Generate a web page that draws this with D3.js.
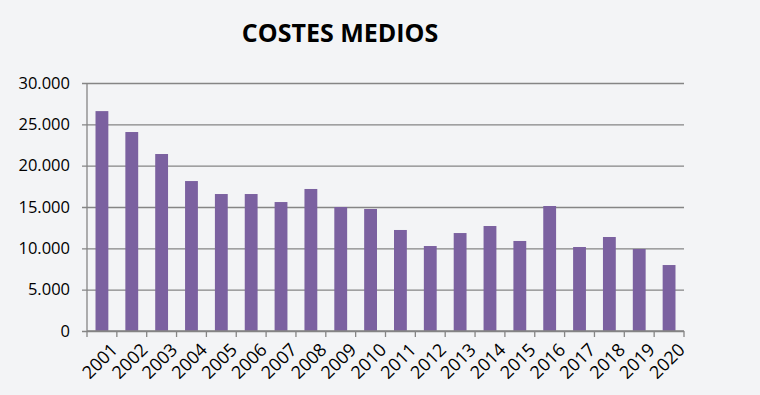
<!DOCTYPE html>
<html lang="es">
<head>
  <meta charset="UTF-8">
  <title>Costes medios</title>
  <script src="https://d3js.org/d3.v7.min.js"></script>
  <style>
    body {
      margin: 0;
      background: #f3f4f6;
    }
    svg text {
      font-family: "Open Sans", sans-serif;
      fill: #000;
    }
    .grid line {
      stroke: #858585;
      stroke-width: 1.3px;
    }
  </style>
</head>
<body>
<script>
const years = ['2001','2002','2003','2004','2005','2006','2007','2008','2009','2010',
               '2011','2012','2013','2014','2015','2016','2017','2018','2019','2020'];
const costes = [26600, 24070, 21410, 18140, 16570, 16570, 15600, 17180, 15000, 14760,
                12220, 10280, 11850, 12700, 10890, 15120, 10160, 11370, 9920, 7980];
const yTicks = [0, 5000, 10000, 15000, 20000, 25000, 30000];

const width = 760, height = 395;
const margin = { top: 83, right: 76, bottom: 64, left: 87 };

const svg = d3.select('body').append('svg')
  .attr('width', width)
  .attr('height', height);

svg.append('rect')
  .attr('width', width)
  .attr('height', height)
  .attr('fill', '#f3f4f6');

const x = d3.scaleBand()
  .domain(years)
  .range([margin.left, width - margin.right])
  .paddingInner(0.57)
  .paddingOuter(0.285);

const y = d3.scaleLinear()
  .domain([0, 30000])
  .range([height - margin.bottom, margin.top]);

const fmt = d => d === 0 ? '0' : d3.format(',')(d).replace(/,/g, '.');

// gridlines + y labels
const yAxis = svg.append('g')
  .attr('class', 'grid')
  .attr('transform', `translate(${margin.left},0)`)
  .call(d3.axisLeft(y).tickValues(yTicks).tickFormat(fmt)
    .tickSize(-(width - margin.left - margin.right)).tickPadding(17));
yAxis.select('.domain').remove();
yAxis.selectAll('.tick line').attr('x1', -5);
yAxis.selectAll('.tick text').style('font-size', '16.5px');

// y axis line
svg.append('line')
  .attr('x1', margin.left).attr('x2', margin.left)
  .attr('y1', margin.top).attr('y2', height - margin.bottom)
  .attr('stroke', '#858585').attr('stroke-width', 1.3);

// bars
svg.selectAll('.bar')
  .data(years)
  .enter().append('rect')
  .attr('class', 'bar')
  .attr('x', d => x(d))
  .attr('width', x.bandwidth())
  .attr('y', (d, i) => y(costes[i]))
  .attr('height', (d, i) => y(0) - y(costes[i]))
  .attr('fill', '#7b61a0');

// x axis
const step = x.step();
const base = y(0);
svg.append('line')
  .attr('x1', margin.left).attr('x2', width - margin.right)
  .attr('y1', base).attr('y2', base)
  .attr('stroke', '#858585').attr('stroke-width', 1.3);

const bounds = d3.range(years.length + 1).map(i => margin.left + i * step);
svg.selectAll('.xtick')
  .data(bounds)
  .enter().append('line')
  .attr('x1', d => d).attr('x2', d => d)
  .attr('y1', base).attr('y2', base + 6)
  .attr('stroke', '#858585').attr('stroke-width', 1.3);

svg.selectAll('.xlabel')
  .data(years)
  .enter().append('text')
  .attr('transform', d => `translate(${x(d) + x.bandwidth() / 2 + 8},${base + 11}) rotate(-45)`)
  .attr('text-anchor', 'end')
  .attr('dy', '0.7em')
  .style('font-size', '18px')
  .text(d => d);

// title
svg.append('text')
  .attr('x', 340)
  .attr('y', 42)
  .attr('text-anchor', 'middle')
  .style('font-size', '25px')
  .style('font-weight', 'bold')
  .text('COSTES MEDIOS');
</script>
</body>
</html>
